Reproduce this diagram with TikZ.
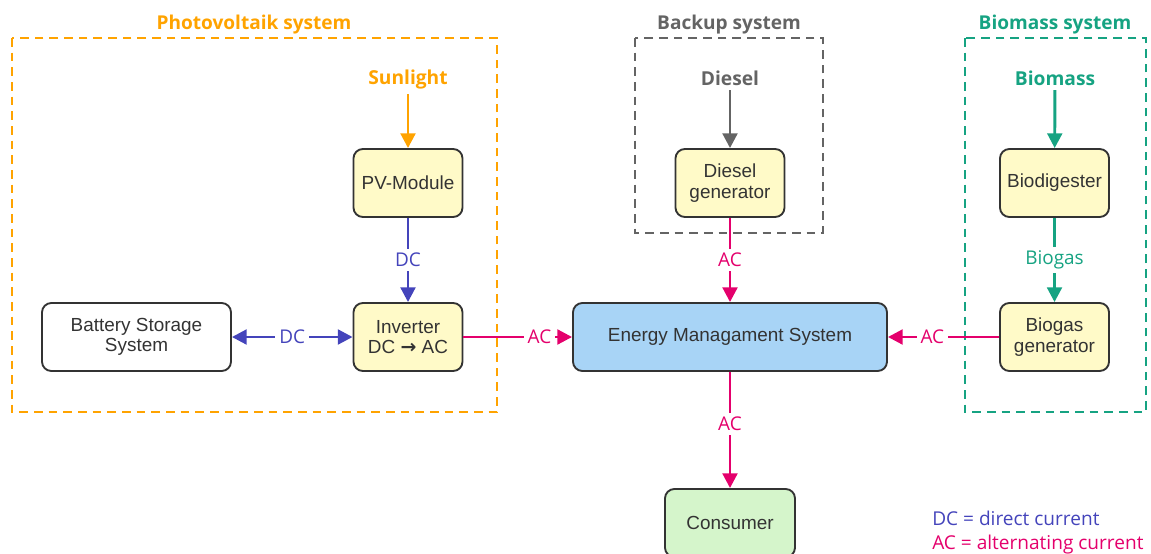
\documentclass[tikz,border=0pt]{standalone}
\usepackage{fontspec}
\setmainfont{Liberation Sans}
\newfontfamily\labelfont{Open Sans}
\newfontfamily\arrowfont{DejaVu Sans}
\usetikzlibrary{positioning,arrows.meta}

\definecolor{pvorange}{RGB}{255,163,0}
\definecolor{backupgray}{RGB}{100,100,100}
\definecolor{biogreen}{RGB}{22,163,130}
\definecolor{dcblue}{RGB}{68,68,187}
\definecolor{acpink}{RGB}{228,0,108}
\definecolor{unityellow}{RGB}{255,250,200}
\definecolor{emsblue}{RGB}{168,212,246}
\definecolor{consgreen}{RGB}{213,245,203}
\definecolor{boxline}{RGB}{51,51,51}

\begin{document}
\begin{tikzpicture}[
  x=0.75pt, y=-0.75pt,
  unit/.style={rectangle, rounded corners=7pt, draw=boxline, line width=1.4pt,
    fill=unityellow, minimum width=81.75pt, minimum height=51pt, align=center,
    font=\fontsize{14.2}{15.5}\selectfont, text=boxline, inner sep=2pt},
  group/.style={line width=1.5pt, dash pattern=on 6.5pt off 4.5pt},
  grouptitle/.style={font=\labelfont\bfseries\fontsize{14.3}{16}\selectfont},
  source/.style={font=\labelfont\bfseries\fontsize{14.4}{16}\selectfont},
  flow/.style={line width=2.2pt, -{Triangle[length=11pt,width=11pt]}},
  current/.style={font=\labelfont\fontsize{14.2}{16}\selectfont, fill=white, inner sep=3pt},
  legend/.style={font=\labelfont\fontsize{14.3}{16}\selectfont, anchor=west, inner sep=0pt}
]
\useasboundingbox (0,0) rectangle (1151,553);

% --- system groups ---
\draw[group, pvorange]   (12,38)  rectangle (497,412);
\draw[group, backupgray] (635,38) rectangle (823,233);
\draw[group, biogreen]   (965,38) rectangle (1146,412);
\node[grouptitle, text=pvorange]   (T1) at (254,25)  {Photovoltaik system};
\node[grouptitle, text=backupgray] (T2) at (729,25)  {Backup system};
\node[grouptitle, text=biogreen]   (T3) at (1055,25) {Biomass system};

% --- sources ---
\node[source, text=pvorange]   (SUN) at (408,80)  {Sunlight};
\node[source, text=backupgray] (DSL) at (730,78)  {Diesel};
\node[source, text=biogreen]   (BIO) at (1055,78) {Biomass};

% --- units ---
\node[unit] (PV)  at (408,183)  {PV-Module};
\node[unit] (INV) at (408,337)  {Inverter\\DC {\arrowfont\bfseries →} AC};
\node[unit, fill=white, minimum width=141.75pt] (BAT) at (136.5,337) {Battery Storage\\System};
\node[unit] (DG)  at (730,183)  {Diesel\\generator};
\node[unit] (DIG) at (1054.5,183) {Biodigester};
\node[unit] (BG)  at (1054.5,337) {Biogas\\generator};
\node[unit, fill=emsblue, minimum width=235.5pt] (EMS) at (730,337) {Energy Managament System};
\node[unit, fill=consgreen, minimum width=97.5pt] (CON) at (730,523) {Consumer};

% --- inputs ---
\draw[flow, pvorange]   (SUN) -- (PV);
\draw[flow, backupgray] (DSL) -- (DG);
\draw[flow, biogreen]   (BIO) -- (DIG);

% --- DC side ---
\draw[flow, dcblue] (PV) -- node[current, text=dcblue] {DC} (INV);
\draw[flow, dcblue, {Triangle[length=11pt,width=11pt]}-{Triangle[length=11pt,width=11pt]}]
  (BAT) -- node[current, text=dcblue] {DC} (INV);

% --- gas ---
\draw[flow, biogreen] (DIG) -- node[current, text=biogreen] {Biogas} (BG);

% --- AC side ---
\draw[flow, acpink] (INV) -- node[current, text=acpink, pos=0.7] {AC} (EMS);
\draw[flow, acpink] (DG)  -- node[current, text=acpink, pos=0.5] {AC} (EMS);
\draw[flow, acpink] (BG)  -- node[current, text=acpink, pos=0.6] {AC} (EMS);
\draw[flow, acpink] (EMS) -- node[current, text=acpink, pos=0.45] {AC} (CON);

% --- legend ---
\node[legend, text=dcblue] (L1) at (932,518) {DC = direct current};
\node[legend, text=acpink] (L2) at (932,545) {AC = alternating current};
\end{tikzpicture}
\end{document}
